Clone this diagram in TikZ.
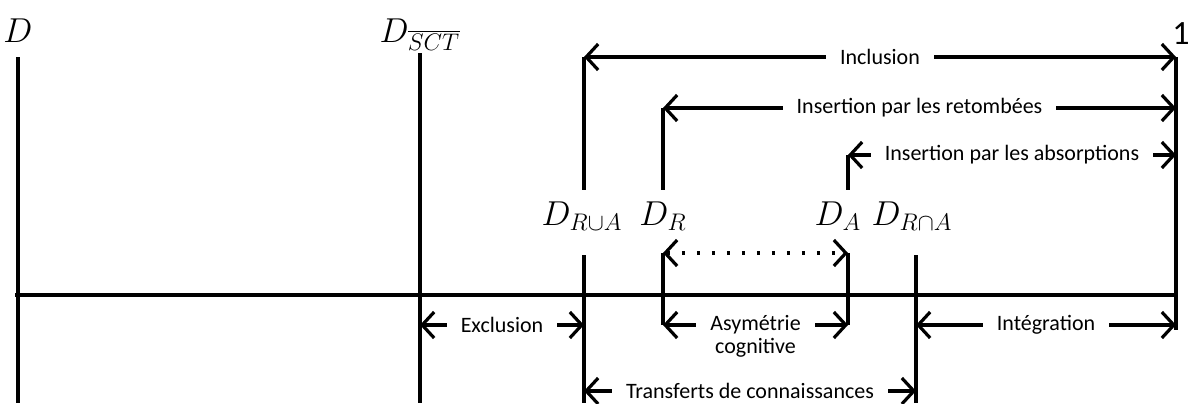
\documentclass[tikz,border=0pt]{standalone}
\usepackage{fontspec}
\setmainfont{Carlito}
\usetikzlibrary{arrows.meta,positioning}

\tikzset{
    axisline/.style={line width=1.7pt},
    tick/.style={line width=1.7pt},
    dimarrow/.style={line width=1.6pt,
        {Straight Barb[length=6pt,width=13pt,line width=1.6pt]}-{Straight Barb[length=6pt,width=13pt,line width=1.6pt]}},
    dotarrow/.style={dimarrow, dash pattern=on 1.6pt off 5.9pt},
    dimlabel/.style={fill=white, inner xsep=7pt, inner ysep=1pt,
        font=\fontsize{11}{13}\selectfont},
    pointlabel/.style={anchor=base, inner sep=0pt, font=\fontsize{17}{20}\selectfont},
}

\begin{document}
\begin{tikzpicture}[x=0.5pt, y=-0.5pt]
    \useasboundingbox (0,0) rectangle (1189,403);

    \coordinate (axisL) at (15,295);
    \coordinate (axisR) at (1176,295);
    \draw[axisline] (axisL) -- (axisR);

    \coordinate (dTop) at (18,57);
    \coordinate (dBot) at (18,403);
    \coordinate (sctTop) at (420,53);
    \coordinate (sctBot) at (420,403);
    \coordinate (uniTop) at (584,57);
    \coordinate (uniMid) at (584,190);
    \coordinate (uniLow) at (584,255);
    \coordinate (uniBot) at (584,403);
    \coordinate (rTop) at (663,108);
    \coordinate (rMid) at (663,190);
    \coordinate (rLow) at (663,253);
    \coordinate (rBot) at (663,325);
    \coordinate (aTop) at (848,155);
    \coordinate (aMid) at (848,190);
    \coordinate (aLow) at (848,253);
    \coordinate (aBot) at (848,325);
    \coordinate (capLow) at (916,255);
    \coordinate (capBot) at (916,403);
    \coordinate (oneTop) at (1176,57);
    \coordinate (oneRet) at (1176,108);
    \coordinate (oneAbs) at (1176,155);
    \coordinate (oneInt) at (1176,325);
    \coordinate (oneBot) at (1176,330);

    \draw[tick] (dTop) -- (dBot);
    \draw[tick] (sctTop) -- (sctBot);
    \draw[tick] (uniTop) -- (uniMid);
    \draw[tick] (uniLow) -- (uniBot);
    \draw[tick] (rTop) -- (rMid);
    \draw[tick] (rLow) -- (rBot);
    \draw[tick] (aTop) -- (aMid);
    \draw[tick] (aLow) -- (aBot);
    \draw[tick] (capLow) -- (capBot);
    \draw[tick] (oneTop) -- (oneBot);

    \node[pointlabel] (lD) at (18,42) {$D$};
    \node[pointlabel] (lSCT) at (420,42) {$D_{\overline{SCT}}$};
    \node[pointlabel] (lOne) at (1181,44) {1};
    \node[pointlabel] (lUni) at (582,225) {$D_{R\cup A}$};
    \node[pointlabel] (lR) at (663,225) {$D_{R}$};
    \node[pointlabel] (lA) at (838,225) {$D_{A}$};
    \node[pointlabel] (lCap) at (912,225) {$D_{R\cap A}$};

    \draw[dimarrow] (uniTop) -- node[dimlabel] (incl) {Inclusion} (oneTop);
    \draw[dimarrow] (rTop) -- node[dimlabel] (ret) {Insertion par les retombées} (oneRet);
    \draw[dimarrow] (aTop) -- node[dimlabel] (abs) {Insertion par les absorptions} (oneAbs);
    \draw[dotarrow] (rLow) -- (aLow);

    \coordinate (exclL) at (420,325);
    \coordinate (exclR) at (584,325);
    \coordinate (intL) at (916,325);
    \coordinate (trL) at (584,391);
    \coordinate (trR) at (916,391);

    \draw[dimarrow] (exclL) -- node[dimlabel] (excl) {Exclusion} (exclR);
    \draw[dimarrow] (rBot) -- node[dimlabel] (asym) {Asymétrie} (aBot);
    \node[dimlabel, below=0pt of asym, inner ysep=0pt] (cogn) {cognitive};
    \draw[dimarrow] (intL) -- node[dimlabel] (integ) {Intégration} (oneInt);
    \draw[dimarrow] (trL) -- node[dimlabel, inner ysep=0pt] (transf) {Transferts de connaissances} (trR);
\end{tikzpicture}
\end{document}
